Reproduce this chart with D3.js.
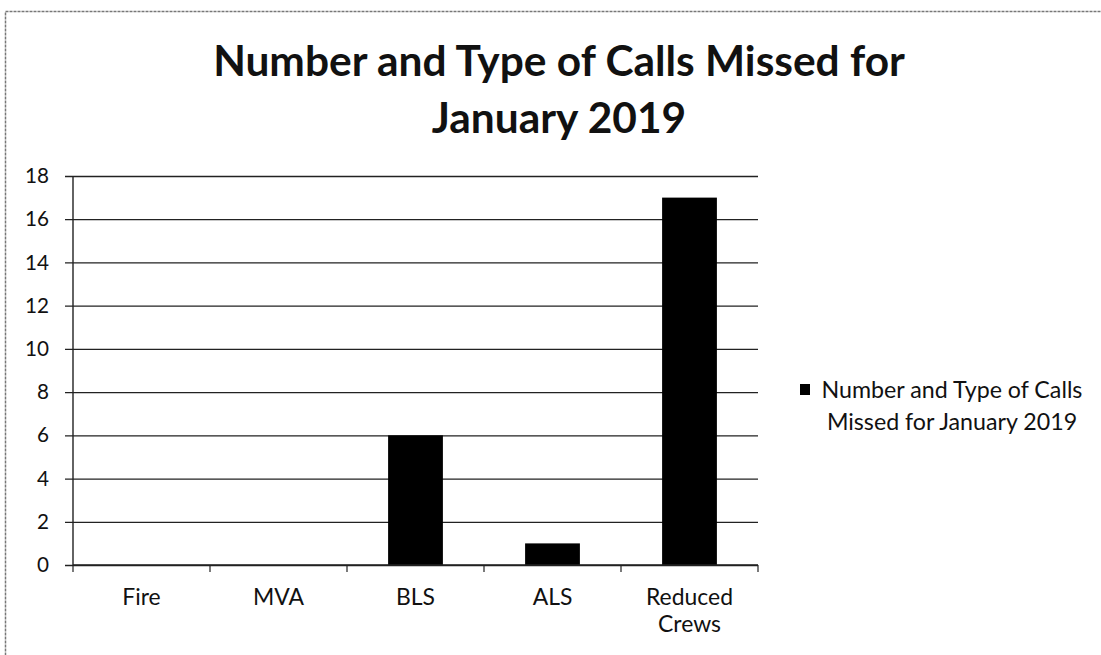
<!DOCTYPE html>
<html>
<head>
<meta charset="utf-8">
<script src="https://cdn.jsdelivr.net/npm/d3@7/dist/d3.min.js"></script>
<style>
  html, body { margin: 0; padding: 0; background: #fff; }
  svg { display: block; }
  text { font-family: Lato, "Open Sans", sans-serif; fill: #111; }
</style>
</head>
<body>
<svg id="chart" width="1101" height="655"></svg>
<script>
// ---- data ----
const categories = ["Fire", "MVA", "BLS", "ALS", "Reduced Crews"];
const values = [0, 0, 6, 1, 17];
const yTicks = [0, 2, 4, 6, 8, 10, 12, 14, 16, 18];
const titleLines = ["Number and Type of Calls Missed for", "January 2019"];
const legendLines = ["Number and Type of Calls", "Missed for January 2019"];

// ---- layout ----
const W = 1101, H = 655;
const plot = { left: 73, right: 758, top: 176, bottom: 565 };

const svg = d3.select("#chart");

// font size that makes a text string span a target width
function fitSize(str, targetW, weight) {
  const t = svg.append("text").style("font-size", "20px")
    .style("font-weight", weight || "normal").text(str);
  const w = t.node().getComputedTextLength();
  t.remove();
  return 20 * targetW / w;
}

// outer border (scanned page frame)
svg.append("rect")
  .attr("x", 5.5).attr("y", 11.5)
  .attr("width", W + 10).attr("height", H + 10)
  .attr("fill", "none").attr("stroke", "#777").attr("stroke-width", 1.5)
  .attr("stroke-dasharray", "3,1");

const x = d3.scaleBand().domain(categories)
  .range([plot.left, plot.right]).paddingInner(0.6).paddingOuter(0.3);
const y = d3.scaleLinear().domain([0, 18]).range([plot.bottom, plot.top]);

const tickSize = fitSize("18", 24);

// gridlines + y ticks
const yAxis = d3.axisLeft(y).tickValues(yTicks)
  .tickSize(-(plot.right - plot.left)).tickPadding(24).tickFormat(d3.format("d"));
const gy = svg.append("g").attr("transform", `translate(${plot.left},0)`).call(yAxis);
gy.select(".domain").remove();
gy.selectAll(".tick line").attr("stroke", "#222").attr("stroke-width", 1.3)
  .attr("x1", -8);
gy.selectAll(".tick text").style("font-size", tickSize + "px").attr("fill", "#111")
  .style("font-family", "Lato, sans-serif");

// y axis line
svg.append("line")
  .attr("x1", plot.left).attr("x2", plot.left)
  .attr("y1", plot.top).attr("y2", plot.bottom + 1)
  .attr("stroke", "#222").attr("stroke-width", 1.4);

// bars
svg.append("g").selectAll("rect").data(values).join("rect")
  .attr("x", (d, i) => x(categories[i]))
  .attr("width", x.bandwidth())
  .attr("y", d => y(d))
  .attr("height", d => y(0) - y(d))
  .attr("fill", "#000");

// x axis line
svg.append("line")
  .attr("x1", plot.left).attr("x2", plot.right)
  .attr("y1", plot.bottom).attr("y2", plot.bottom)
  .attr("stroke", "#222").attr("stroke-width", 1.4);

// category boundary ticks
const bounds = d3.range(categories.length + 1).map(i => plot.left + i * (plot.right - plot.left) / categories.length);
svg.append("g").selectAll("line").data(bounds).join("line")
  .attr("x1", d => d).attr("x2", d => d)
  .attr("y1", plot.bottom).attr("y2", plot.bottom + 7)
  .attr("stroke", "#222").attr("stroke-width", 1.2);

// category labels
const catSize = fitSize("Reduced", 87);
const xl = svg.append("g").selectAll("text").data(categories).join("text")
  .attr("x", d => x(d) + x.bandwidth() / 2)
  .attr("y", 605)
  .attr("text-anchor", "middle")
  .style("font-size", catSize + "px");
xl.each(function(d) {
  const parts = d.split(" ");
  d3.select(this).selectAll("tspan").data(parts).join("tspan")
    .attr("x", x(d) + x.bandwidth() / 2)
    .attr("dy", (p, j) => j === 0 ? 0 : 27)
    .text(p => p);
});

// title
const titleSize = fitSize(titleLines[0], 692, "bold");
titleLines.forEach((t, i) => {
  svg.append("text")
    .attr("x", 559).attr("y", i === 0 ? 76 : 133)
    .attr("text-anchor", "middle")
    .style("font-weight", "bold")
    .style("font-size", titleSize + "px")
    .text(t);
});

// legend
const legSize = fitSize(legendLines[0], 261);
svg.append("rect")
  .attr("x", 800).attr("y", 384).attr("width", 10).attr("height", 11)
  .attr("fill", "#000");
legendLines.forEach((t, i) => {
  svg.append("text")
    .attr("x", 952).attr("y", i === 0 ? 398 : 430)
    .attr("text-anchor", "middle")
    .style("font-size", legSize + "px")
    .text(t);
});
</script>
</body>
</html>
